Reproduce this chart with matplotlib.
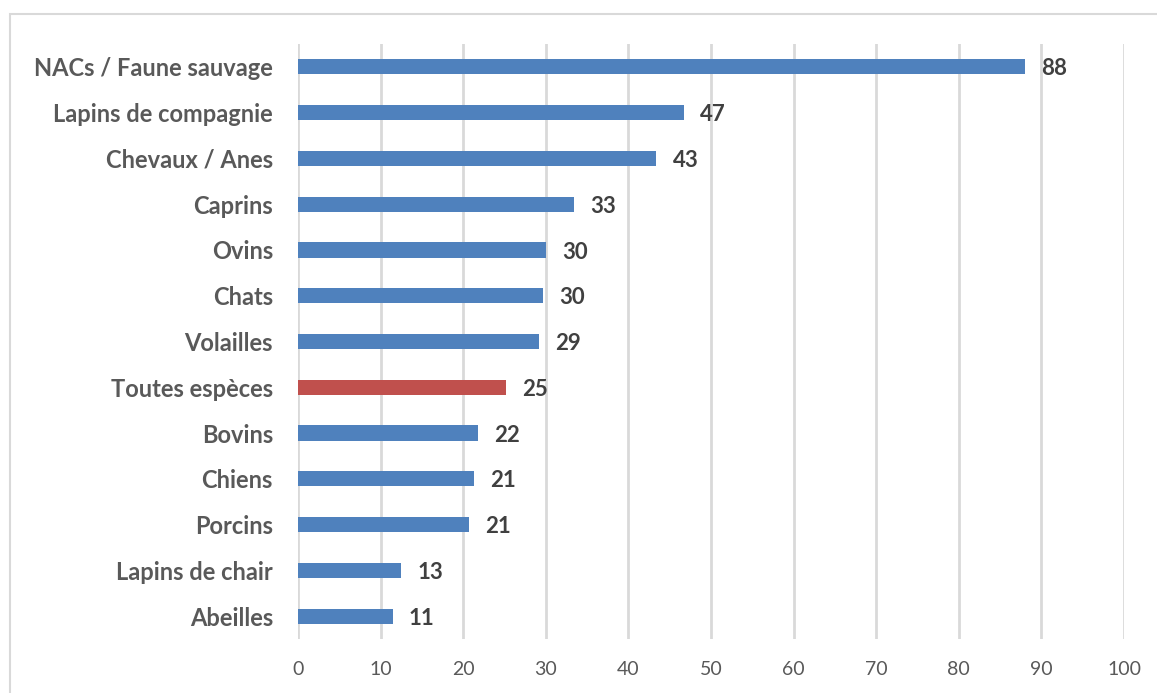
import matplotlib
matplotlib.use('Agg')
import matplotlib.pyplot as plt
from matplotlib.patches import Rectangle

plt.rcParams['font.family'] = ['Lato', 'DejaVu Sans']

# categories from top to bottom
categories = ['NACs / Faune sauvage', 'Lapins de compagnie', 'Chevaux / Anes', 'Caprins',
              'Ovins', 'Chats', 'Volailles', 'Toutes espèces', 'Bovins', 'Chiens',
              'Porcins', 'Lapins de chair', 'Abeilles']
values = [88.0, 46.7, 43.4, 33.4, 30.0, 29.7, 29.2, 25.2, 21.8, 21.3, 20.7, 12.5, 11.5]
labels = ['88', '47', '43', '33', '30', '30', '29', '25', '22', '21', '21', '13', '11']
highlight = 'Toutes espèces'

blue = '#4f81bd'
red = '#c0504d'

fig = plt.figure(figsize=(11.57, 6.93), dpi=100)
ax = fig.add_axes([298/1157, 1 - 639/693, 826/1157, 595/693])

# outer frame like the Excel chart area
fig.patches.append(Rectangle((10/1157, -0.05), 1.2, 1 - 14/693 + 0.05,
                             transform=fig.transFigure, fill=False,
                             edgecolor='#d9d9d9', linewidth=1.5))

pos = list(range(len(categories)))
colors = [red if c == highlight else blue for c in categories]
ax.barh(pos, values, height=0.33, color=colors, zorder=3)

for p, v, l in zip(pos, values, labels):
    ax.annotate(l, (v, p), xytext=(11.5, -1.5), textcoords='offset points',
                va='center', ha='left', fontsize=16, fontweight='bold', color='#404040')

ax.set_xlim(0, 100)
ax.set_ylim(len(categories) - 0.5, -0.5)
ax.set_xticks(range(0, 101, 10))
ax.set_yticks(pos)
ax.set_yticklabels(categories, fontsize=17, fontweight='bold', color='#595959')
ax.tick_params(axis='x', length=0, pad=16, labelsize=14, labelcolor='#595959')
ax.tick_params(axis='y', length=0, pad=18)
ax.grid(axis='x', color='#d9d9d9', linewidth=2, zorder=0)
for s in ax.spines.values():
    s.set_visible(False)

fig.savefig('out.png', dpi=100)
